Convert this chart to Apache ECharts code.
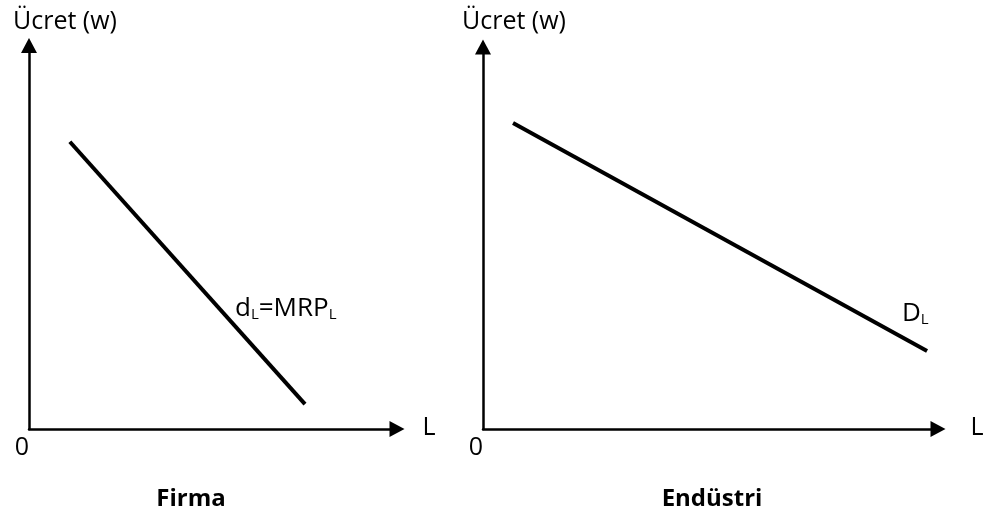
<!DOCTYPE html>
<html>
<head>
<meta charset="utf-8">
<script src="https://cdn.jsdelivr.net/npm/echarts@6/dist/echarts.min.js"></script>
<style>
html,body{margin:0;padding:0;background:#fff;}
#c{width:988px;height:517px;}
</style>
</head>
<body>
<div id="c"></div>
<script>
// Firma demand curve d_L = MRP_L (two endpoints)
const firmaL = [1.11, 7.50];
const firmaW = [7.49, 0.65];
// Industry demand curve D_L (two endpoints)
const endustriL = [0.66, 9.76];
const endustriW = [8.01, 2.04];
const axisMin = 0, axisMax = 10;
const yAxisName = 'Ücret (w)';
const xAxisName = 'L';
const originLabel = '0';
const panelTitles = ['Firma', 'Endüstri'];

const FAMILY = 'Open Sans';
const chart = echarts.init(document.getElementById('c'), null, {renderer: 'canvas'});

function axis(gridIndex) {
  return {
    type: 'value', gridIndex: gridIndex, min: axisMin, max: axisMax,
    axisLine: {show: true, symbol: ['none', 'triangle'], symbolSize: [16, 15],
      lineStyle: {color: '#000', width: 2.5}},
    axisTick: {show: false}, axisLabel: {show: false}, splitLine: {show: false}
  };
}
function pairs(xs, ys) { return xs.map((x, i) => [x, ys[i]]); }

const txt = (text, x, y, opts) => ({
  type: 'text', x: x, y: y,
  style: Object.assign({text: text, fontSize: 25, fontFamily: FAMILY, fill: '#000',
    align: 'center', verticalAlign: 'middle'}, opts || {})
});
const richSub = {
  m: {fontSize: 26, fontFamily: FAMILY, fill: '#000', verticalAlign: 'bottom'},
  s: {fontSize: 15, fontFamily: FAMILY, fill: '#000', verticalAlign: 'bottom'}
};

chart.setOption({
  animation: false,
  grid: [
    {left: 29, top: 45.5, width: 368, height: 383.5},
    {left: 483, top: 47, width: 455, height: 382}
  ],
  xAxis: [axis(0), axis(1)],
  yAxis: [axis(0), axis(1)],
  series: [
    {type: 'line', xAxisIndex: 0, yAxisIndex: 0, data: pairs(firmaL, firmaW),
      symbol: 'none', lineStyle: {color: '#000', width: 4}},
    {type: 'line', xAxisIndex: 1, yAxisIndex: 1, data: pairs(endustriL, endustriW),
      symbol: 'none', lineStyle: {color: '#000', width: 4}}
  ],
  graphic: [
    txt(yAxisName, 65, 22),
    txt(yAxisName, 514, 22),
    txt(originLabel, 22, 448),
    txt(originLabel, 476, 448),
    txt(xAxisName, 429, 428),
    txt(xAxisName, 977, 428),
    {type: 'text', x: 235, y: 322, style: {
      text: '{m|d}{s|L}{m|=MRP}{s|L}', fill: '#000', verticalAlign: 'bottom', align: 'left', rich: richSub}},
    {type: 'text', x: 902, y: 327, style: {
      text: '{m|D}{s|L}', fill: '#000', verticalAlign: 'bottom', align: 'left', rich: richSub}},
    txt(panelTitles[0], 191, 499, {fontWeight: 'bold', fontSize: 24}),
    txt(panelTitles[1], 712, 499, {fontWeight: 'bold', fontSize: 24})
  ]
});
</script>
</body>
</html>
